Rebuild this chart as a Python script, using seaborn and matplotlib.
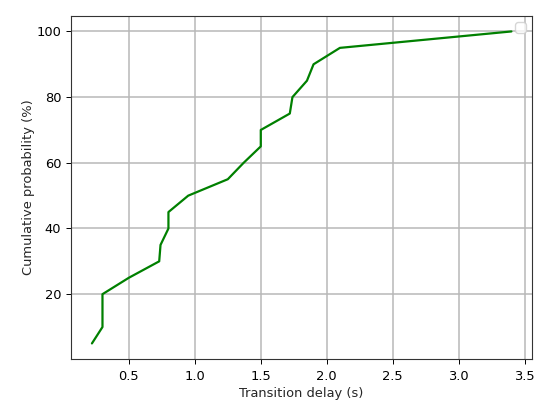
import matplotlib
matplotlib.use("Agg")
import matplotlib.pyplot as plt
import seaborn as sns
import pandas as pd

# CDF of transition delays
delay_s = [0.22, 0.30, 0.30, 0.30, 0.50, 0.73, 0.74, 0.80, 0.80, 0.95,
           1.25, 1.37, 1.50, 1.50, 1.72, 1.74, 1.85, 1.90, 2.10, 3.40]
cum_prob = [5, 10, 15, 20, 25, 30, 35, 40, 45, 50,
            55, 60, 65, 70, 75, 80, 85, 90, 95, 100]

df = pd.DataFrame({"delay": delay_s, "prob": cum_prob})

sns.set_style("ticks")
plt.rcParams["font.family"] = ["DejaVu Sans"]
fs = 9.4
plt.rcParams["font.size"] = fs

fig, ax = plt.subplots(figsize=(5.5, 4.17), dpi=100)
sns.lineplot(data=df, x="delay", y="prob", estimator=None, sort=False,
             color="green", linewidth=1.6, ax=ax)

ax.set_xlabel("Transition delay (s)", fontsize=fs, labelpad=3)
ax.set_ylabel("Cumulative probability (%)", fontsize=fs, labelpad=1)
ax.tick_params(axis="x", pad=4.5)
ax.tick_params(labelsize=fs, colors="black", width=0.7, length=3.5)
for s in ax.spines.values():
    s.set_color("#333333")
    s.set_linewidth(0.8)
ax.grid(True, color="#b8b8b8", linewidth=1.1)
ax.legend(handles=[], labels=[], loc="upper right")

fig.subplots_adjust(left=0.129, right=0.968, top=0.962, bottom=0.139)
fig.savefig("out.png", dpi=100)
